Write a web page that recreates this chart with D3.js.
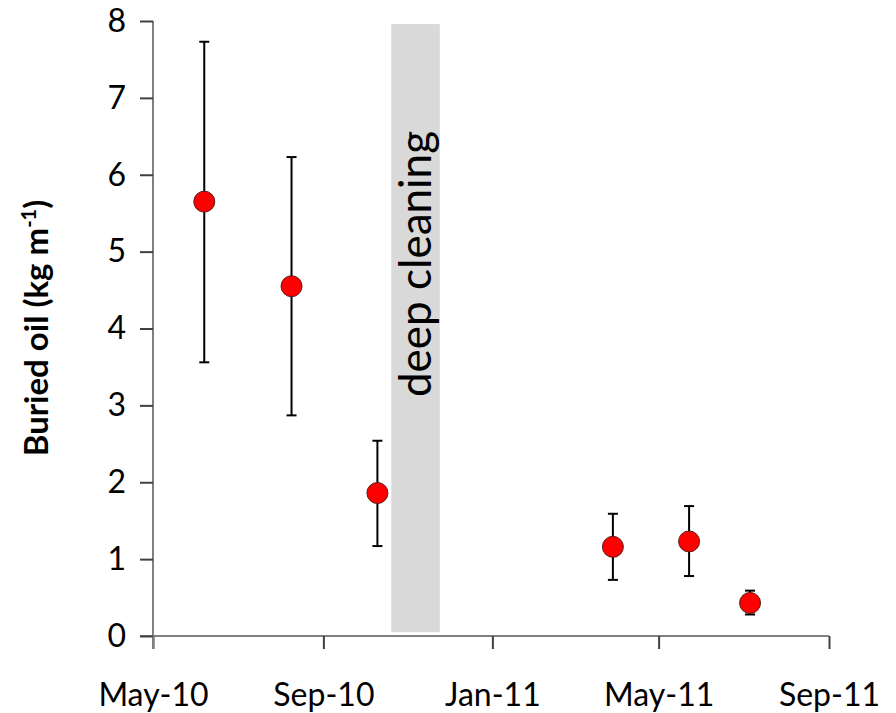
<!DOCTYPE html>
<html>
<head>
<meta charset="utf-8">
<script src="https://cdn.jsdelivr.net/npm/d3@7"></script>
<style>
  body { margin: 0; background: #fff; }
  text { font-family: Lato, "Open Sans", sans-serif; }
</style>
</head>
<body>
<svg id="chart" width="896" height="713"></svg>
<script>
// sampling dates and buried oil (kg m-1), mean with error bar bounds
const dates = ["2010-06-07", "2010-08-09", "2010-10-10", "2011-03-29", "2011-05-23", "2011-07-06"];
const means = [5.65, 4.55, 1.86, 1.16, 1.23, 0.43];
const upper = [7.73, 6.23, 2.54, 1.59, 1.69, 0.59];
const lower = [3.56, 2.87, 1.17, 0.73, 0.78, 0.28];

// deep cleaning period (shaded band)
const bandDates = ["2010-10-20", "2010-11-24"];
const bandValues = [0.05, 7.96];
const bandLabel = "deep cleaning";

const xTicks = ["2010-05-01", "2010-09-01", "2011-01-01", "2011-05-01", "2011-09-01"];
const yTicks = [0, 1, 2, 3, 4, 5, 6, 7, 8];

const parse = d3.timeParse("%Y-%m-%d");
const data = dates.map((d, i) => ({
  date: parse(d), mean: means[i], hi: upper[i], lo: lower[i]
}));

const svg = d3.select("#chart");
const plotLeft = 153, plotRight = 829, plotTop = 21, plotBottom = 636;

const x = d3.scaleTime()
  .domain([parse(xTicks[0]), parse(xTicks[xTicks.length - 1])])
  .range([plotLeft, plotRight]);
const y = d3.scaleLinear().domain([0, 8]).range([plotBottom, plotTop]);

// shaded band
svg.append("rect")
  .attr("x", x(parse(bandDates[0])))
  .attr("width", x(parse(bandDates[1])) - x(parse(bandDates[0])))
  .attr("y", y(bandValues[1]))
  .attr("height", y(bandValues[0]) - y(bandValues[1]))
  .attr("fill", "#d9d9d9");

svg.append("text")
  .attr("transform", "translate(" + ((x(parse(bandDates[0])) + x(parse(bandDates[1]))) / 2 + 15) + ",264) rotate(-90)")
  .attr("text-anchor", "middle")
  .attr("font-size", "44px")
  .attr("fill", "#000")
  .text(bandLabel);

// axes
const xAxis = svg.append("g")
  .attr("transform", "translate(0," + plotBottom + ")")
  .call(d3.axisBottom(x).tickValues(xTicks.map(parse)).tickSize(13).tickFormat(d3.timeFormat("%b-%y")));
xAxis.select(".domain").attr("stroke", "#808080").attr("stroke-width", 2)
  .attr("d", "M" + (plotLeft - 13) + ",0H" + plotRight);
xAxis.selectAll(".tick line").attr("stroke", "#404040").attr("stroke-width", 2);
xAxis.selectAll(".tick text").attr("font-size", "32px").attr("dy", "54px").attr("y", 16).attr("fill", "#000");

const yAxis = svg.append("g")
  .attr("transform", "translate(" + plotLeft + ",0)")
  .call(d3.axisLeft(y).tickValues(yTicks).tickSize(13).tickFormat(d3.format("d")));
yAxis.select(".domain").attr("stroke", "#808080").attr("stroke-width", 2)
  .attr("d", "M0," + plotTop + "V" + (plotBottom + 13));
yAxis.selectAll(".tick line").attr("stroke", "#404040").attr("stroke-width", 2);
yAxis.selectAll(".tick text").attr("font-size", "32px").attr("x", -27).attr("fill", "#000");
yAxis.selectAll("text").attr("font-family", "Lato, sans-serif");
xAxis.selectAll("text").attr("font-family", "Lato, sans-serif");

// y axis title
const title = svg.append("text")
  .attr("transform", "translate(48,328) rotate(-90)")
  .attr("text-anchor", "middle")
  .attr("font-size", "33px")
  .attr("font-weight", "bold");
title.append("tspan").text("Buried oil (kg m");
title.append("tspan").attr("font-size", "20px").attr("dy", "-12").text("-1");
title.append("tspan").attr("dy", "12").text(")");

// error bars
const bars = svg.append("g").attr("stroke", "#000").attr("stroke-width", 2);
bars.selectAll("line.v").data(data).enter().append("line")
  .attr("x1", d => x(d.date)).attr("x2", d => x(d.date))
  .attr("y1", d => y(d.hi)).attr("y2", d => y(d.lo));
bars.selectAll("line.hi").data(data).enter().append("line")
  .attr("x1", d => x(d.date) - 5).attr("x2", d => x(d.date) + 5)
  .attr("y1", d => y(d.hi)).attr("y2", d => y(d.hi));
bars.selectAll("line.lo").data(data).enter().append("line")
  .attr("x1", d => x(d.date) - 5).attr("x2", d => x(d.date) + 5)
  .attr("y1", d => y(d.lo)).attr("y2", d => y(d.lo));

// markers
svg.append("g").selectAll("circle").data(data).enter().append("circle")
  .attr("cx", d => x(d.date))
  .attr("cy", d => y(d.mean))
  .attr("r", 10.5)
  .attr("fill", "#ff0000")
  .attr("stroke", "#5a1a1a")
  .attr("stroke-width", 1);
</script>
</body>
</html>
